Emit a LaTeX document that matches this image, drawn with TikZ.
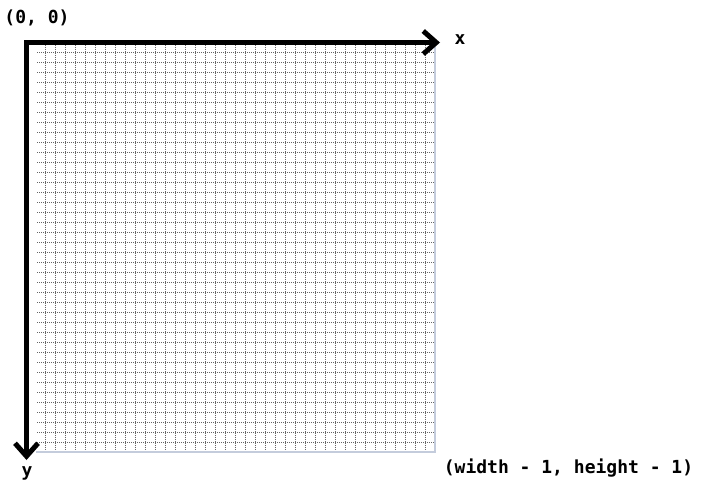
\documentclass[tikz,border=0pt]{standalone}
\usepackage{fontspec}
\setmonofont{DejaVu Sans Mono}
\usetikzlibrary{arrows.meta}
\tikzset{
  griddot/.style={line width=1pt, draw=black!60, dash pattern=on 1pt off 1pt},
  gridborder/.style={line width=1.5pt, draw={rgb,255:red,196;green,204;blue,220}},
  axis/.style={line width=5pt, line cap=rect, -{Straight Barb[length=13pt,width=23pt,line cap=butt]}},
  lbl/.style={font=\fontsize{18}{20}\selectfont\ttfamily\bfseries, inner sep=0pt}
}
\begin{document}
\begin{tikzpicture}[x=1pt,y=-1pt]
\useasboundingbox (0,0) rectangle (703,496);
% grid
\foreach \x in {45,55,...,425} \draw[griddot] (\x,45) -- (\x,451.5);
\foreach \y in {52,62,...,442} \draw[griddot] (37,\y) -- (434,\y);
\draw[gridborder] (36,452) -- (435,452) -- (435,44);
% axes
\coordinate (o) at (26.5,42.5);
\coordinate (xe) at (440,42.5);
\coordinate (ye) at (26.5,460);
\draw[axis] (o) -- (xe);
\draw[axis] (o) -- (ye);
% labels
\node[lbl] (origin) at (37,18) {(0, 0)};
\node[lbl] (xl) at (460,40) {x};
\node[lbl] (yl) at (27,473) {y};
\node[lbl] (corner) at (568.5,468) {(width - 1, height - 1)};
\end{tikzpicture}
\end{document}
